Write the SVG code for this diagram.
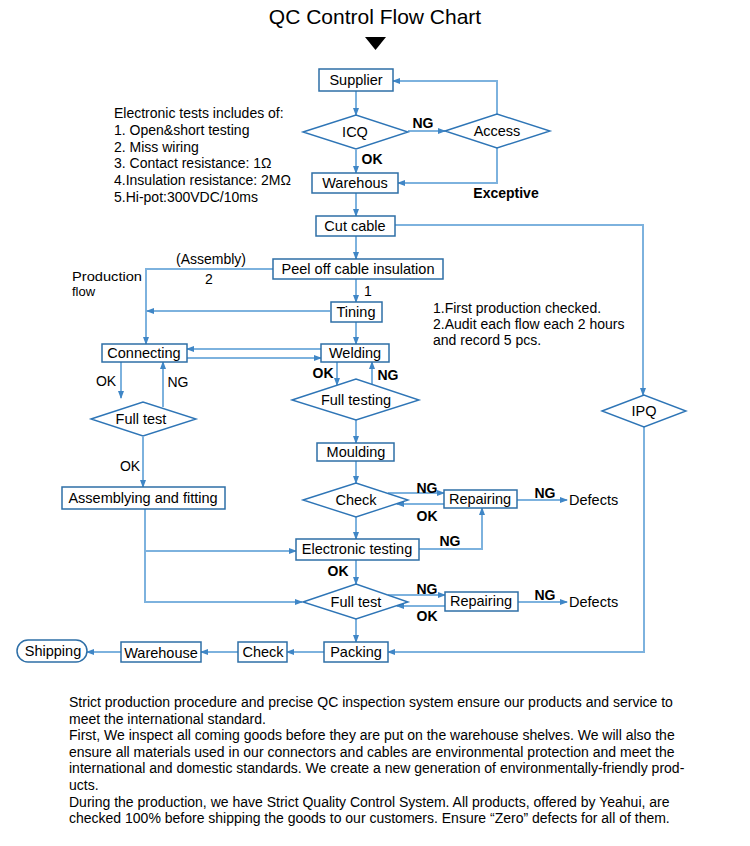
<svg xmlns="http://www.w3.org/2000/svg" width="750" height="846" viewBox="0 0 750 846">
<style>
.bg{fill:#fff}
.box{fill:#fff;stroke:#2e6fa7;stroke-width:1.5}
.dia{fill:#fff;stroke:#2e75b6;stroke-width:1.4}
.ln{fill:none;stroke:#7db2de;stroke-width:2}
.ar{marker-end:url(#ah)}
text{font-family:"Liberation Sans",Arial,sans-serif;fill:#000}
.t{font-size:14.5px;text-anchor:middle}
.lb{font-size:14px;text-anchor:middle;font-weight:bold}
.lr{font-size:14px;text-anchor:middle}
.s{font-size:14px}
.p{font-size:14px}
</style>
<defs>
<marker id="ah" markerUnits="userSpaceOnUse" markerWidth="8" markerHeight="6" refX="7" refY="3" orient="auto">
<path d="M0,0 L8,3 L0,6 z" fill="#3f86c6"/>
</marker>
</defs>
<rect class="bg" x="0" y="0" width="750" height="846"/>
<text x="375" y="24" style="font-size:21px;text-anchor:middle">QC Control Flow Chart</text>
<polygon points="365,37 386,37 375.5,50" fill="#000"/>

<g id="connectors">
<path class="ln ar" d="M356,91 V115"/>
<path class="ln ar" d="M408,131 H445"/>
<path class="ln ar" d="M497,114 V81 H393"/>
<path class="ln ar" d="M356,150 V173"/>
<path class="ln ar" d="M497,148 V183 H398"/>
<path class="ln ar" d="M356,193 V216"/>
<path class="ln ar" d="M395,225 H643 V395"/>
<path class="ln ar" d="M356,236 V259"/>
<path class="ln ar" d="M273,269 H146 V344"/>
<path class="ln ar" d="M356,279 V302"/>
<path class="ln ar" d="M330,311 H147"/>
<path class="ln ar" d="M356,322 V344"/>
<path class="ln ar" d="M321,349 H187"/>
<path class="ln ar" d="M187,358 H321"/>
<path class="ln ar" d="M121,362 V398"/>
<path class="ln ar" d="M163,407 V362"/>
<path class="ln ar" d="M143,437 V487"/>
<path class="ln ar" d="M145,509 V602 H302"/>
<path class="ln ar" d="M145,551 H296"/>
<path class="ln ar" d="M337,362 V385"/>
<path class="ln ar" d="M372,384 V362"/>
<path class="ln ar" d="M356,420 V443"/>
<path class="ln ar" d="M356,461 V483"/>
<path class="ln ar" d="M388,493 H444"/>
<path class="ln ar" d="M444,504 H397"/>
<path class="ln ar" d="M517,500 H567"/>
<path class="ln ar" d="M356,517 V539"/>
<path class="ln ar" d="M419,549 H482 V508"/>
<path class="ln ar" d="M356,560 V584"/>
<path class="ln ar" d="M388,595 H445"/>
<path class="ln ar" d="M445,606 H397"/>
<path class="ln ar" d="M518,602 H567"/>
<path class="ln ar" d="M356,619 V642"/>
<path class="ln ar" d="M644,427 V652 H388"/>
<path class="ln ar" d="M324,652 H287"/>
<path class="ln ar" d="M238,652 H201"/>
<path class="ln ar" d="M121,652 H87"/>
</g>

<g id="supplier"><rect class="box" x="319" y="69" width="74" height="22"/><text class="t" x="356" y="85">Supplier</text></g>
<g id="icq"><polygon class="dia" points="303,132 356,115 408,132 356,149"/><text class="t" x="355" y="137">ICQ</text></g>
<g id="access"><polygon class="dia" points="445,131 497,114 550,131 497,148"/><text class="t" x="497" y="136">Access</text></g>
<g id="warehous"><rect class="box" x="312" y="173" width="86" height="20"/><text class="t" x="355" y="188">Warehous</text></g>
<g id="cutcable"><rect class="box" x="316" y="216" width="79" height="20"/><text class="t" x="355" y="231">Cut cable</text></g>
<g id="peel"><rect class="box" x="273" y="259" width="170" height="20"/><text class="t" x="358" y="274">Peel off cable insulation</text></g>
<g id="tining"><rect class="box" x="331" y="302" width="51" height="20"/><text class="t" x="356" y="317">Tining</text></g>
<g id="connecting"><rect class="box" x="102" y="344" width="85" height="18"/><text class="t" x="144" y="358">Connecting</text></g>
<g id="welding"><rect class="box" x="321" y="344" width="68" height="18"/><text class="t" x="355" y="358">Welding</text></g>
<g id="fulltest1"><polygon class="dia" points="91,419 143,402 196,419 143,436"/><text class="t" x="141" y="424">Full test</text></g>
<g id="fulltesting"><polygon class="dia" points="292,400 356,379 419,400 356,420"/><text class="t" x="356" y="405">Full testing</text></g>
<g id="moulding"><rect class="box" x="317" y="443" width="77" height="18"/><text class="t" x="356" y="457">Moulding</text></g>
<g id="assembling"><rect class="box" x="62" y="487" width="163" height="22"/><text class="t" x="143" y="503">Assemblying and fitting</text></g>
<g id="check1"><polygon class="dia" points="303,500 356,483 408,500 356,517"/><text class="t" x="356" y="505">Check</text></g>
<g id="repair1"><rect class="box" x="444" y="490" width="73" height="18"/><text class="t" x="480" y="504">Repairing</text></g>
<g id="defects1"><text class="t" x="569" y="505" style="text-anchor:start">Defects</text></g>
<g id="electronic"><rect class="box" x="296" y="539" width="123" height="21"/><text class="t" x="357" y="554">Electronic testing</text></g>
<g id="fulltest2"><polygon class="dia" points="303,602 356,584 408,602 356,619"/><text class="t" x="356" y="607">Full test</text></g>
<g id="repair2"><rect class="box" x="445" y="592" width="73" height="19"/><text class="t" x="481" y="606">Repairing</text></g>
<g id="defects2"><text class="t" x="569" y="607" style="text-anchor:start">Defects</text></g>
<g id="ipq"><polygon class="dia" points="602,411 644,395 686,411 644,427"/><text class="t" x="644" y="416">IPQ</text></g>
<g id="packing"><rect class="box" x="324" y="642" width="64" height="20"/><text class="t" x="356" y="657">Packing</text></g>
<g id="check2"><rect class="box" x="238" y="642" width="49" height="20"/><text class="t" x="263" y="657">Check</text></g>
<g id="warehouse"><rect class="box" x="121" y="642" width="80" height="20"/><text class="t" x="161" y="658">Warehouse</text></g>
<g id="shipping"><rect class="box" x="17" y="640" width="70" height="22" rx="11"/><text class="t" x="53" y="656">Shipping</text></g>

<g id="labels">
<text class="lb" x="423" y="128">NG</text>
<text class="lb" x="372" y="164">OK</text>
<text class="lb" x="506" y="198">Exceptive</text>
<text class="lr" x="211" y="264">(Assembly)</text>
<text class="lr" x="209" y="284">2</text>
<text x="72" y="281" style="font-size:13px" textLength="70" lengthAdjust="spacingAndGlyphs">Production</text>
<text x="72" y="295.5" style="font-size:13px">flow</text>
<text class="lr" x="368" y="296">1</text>
<text class="lr" x="106" y="386">OK</text>
<text class="lr" x="178" y="387">NG</text>
<text class="lr" x="130" y="471">OK</text>
<text class="lb" x="323" y="378">OK</text>
<text class="lb" x="388" y="380">NG</text>
<text class="lb" x="427" y="493">NG</text>
<text class="lb" x="427" y="521">OK</text>
<text class="lb" x="545" y="498">NG</text>
<text class="lb" x="450" y="546">NG</text>
<text class="lb" x="338" y="576">OK</text>
<text class="lb" x="427" y="594">NG</text>
<text class="lb" x="427" y="621">OK</text>
<text class="lb" x="545" y="600">NG</text>
</g>

<g id="notes-left" class="s">
<text x="114" y="118">Electronic tests includes of:</text>
<text x="114" y="135">1. Open&amp;short testing</text>
<text x="114" y="151.5">2. Miss wiring</text>
<text x="114" y="168">3. Contact resistance: 1Ω</text>
<text x="114" y="185">4.Insulation resistance: 2MΩ</text>
<text x="114" y="202">5.Hi-pot:300VDC/10ms</text>
</g>
<g id="notes-right" class="s">
<text x="433" y="313">1.First production checked.</text>
<text x="433" y="329">2.Audit each flow each 2 hours</text>
<text x="433" y="345">and record 5 pcs.</text>
</g>

<g id="paragraph" class="p">
<text x="69" y="707">Strict production procedure and precise QC inspection system ensure our products and service to</text>
<text x="69" y="723.5">meet the international standard.</text>
<text x="69" y="740">First, We inspect all coming goods before they are put on the warehouse shelves. We will also the</text>
<text x="69" y="756.5">ensure all materials used in our connectors and cables are environmental protection and meet the</text>
<text x="69" y="773">international and domestic standards. We create a new generation of environmentally-friendly prod-</text>
<text x="69" y="790">ucts.</text>
<text x="69" y="806.5">During the production, we have Strict Quality Control System. All products, offered by Yeahui, are</text>
<text x="69" y="823">checked 100% before shipping the goods to our customers. Ensure “Zero” defects for all of them.</text>
</g>
</svg>
